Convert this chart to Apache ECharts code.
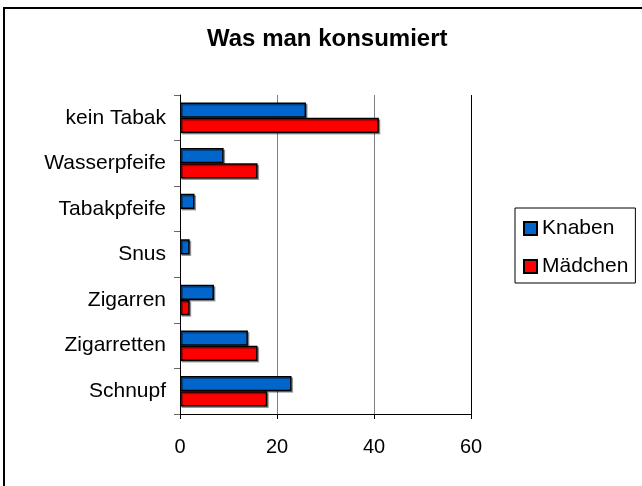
<!DOCTYPE html>
<html>
<head>
<meta charset="utf-8">
<script src="https://cdn.jsdelivr.net/npm/echarts@6/dist/echarts.min.js"></script>
<style>
  html, body { margin: 0; padding: 0; background: #fff; }
  #main { width: 642px; height: 486px; }
</style>
</head>
<body>
<div id="main"></div>
<script>
var categories = ['kein Tabak', 'Wasserpfeife', 'Tabakpfeife', 'Snus', 'Zigarren', 'Zigarretten', 'Schnupf'];
var knaben = [26, 9, 3, 2, 7, 14, 23];
var maedchen = [41, 16, 0, 0, 2, 16, 18];
var xTicks = [0, 20, 40, 60];

var font = 'Liberation Sans, Arial, sans-serif';
var myChart = echarts.init(document.getElementById('main'));

function barStyle(color) {
  return {
    color: color,
    borderColor: '#000',
    borderWidth: 1.5,
    shadowColor: 'rgba(0,0,0,0.35)',
    shadowOffsetX: 1.5,
    shadowOffsetY: 1.5
  };
}

// zero values draw nothing (no border stub on the axis)
function toItems(values) {
  return values.map(function (v) {
    if (v === 0) {
      return { value: 0, itemStyle: { borderWidth: 0, shadowColor: 'transparent', opacity: 0 } };
    }
    return v;
  });
}

myChart.setOption({
  backgroundColor: '#fff',
  animation: false,
  title: {
    text: 'Was man konsumiert',
    left: 207,
    top: 27,
    padding: 0,
    textStyle: { fontFamily: font, fontSize: 24, fontWeight: 'bold', color: '#000' }
  },
  legend: {
    orient: 'vertical',
    left: 515,
    top: 208,
    padding: [10, 7, 6, 8],
    itemGap: 17,
    itemWidth: 13,
    itemHeight: 13,
    icon: 'rect',
    borderColor: '#000',
    borderWidth: 1,
    textStyle: { fontFamily: font, fontSize: 21, color: '#000' },
    data: ['Knaben', 'Mädchen']
  },
  grid: { left: 180, right: 171, top: 95, bottom: 72, containLabel: false },
  xAxis: {
    type: 'value',
    min: xTicks[0],
    max: xTicks[xTicks.length - 1],
    interval: 20,
    axisLine: { show: true, lineStyle: { color: '#000', width: 1 } },
    axisTick: { show: true, length: 5, lineStyle: { color: '#000' } },
    axisLabel: { fontFamily: font, fontSize: 20, color: '#000', margin: 23 },
    splitLine: { show: true, lineStyle: { color: ['#000', '#7f7f7f', '#7f7f7f', '#000'], width: 1 } }
  },
  yAxis: {
    type: 'category',
    inverse: true,
    data: categories,
    axisLine: { show: true, lineStyle: { color: '#000', width: 1 } },
    axisTick: { show: true, length: 6, lineStyle: { color: '#666' } },
    axisLabel: { fontFamily: font, fontSize: 21, color: '#000', margin: 14 }
  },
  series: [
    {
      name: 'Knaben',
      type: 'bar',
      data: toItems(knaben),
      barGap: '0%',
      barCategoryGap: '33%',
      itemStyle: barStyle('#0066cc')
    },
    {
      name: 'Mädchen',
      type: 'bar',
      data: toItems(maedchen),
      barGap: '0%',
      barCategoryGap: '33%',
      itemStyle: barStyle('#ff0000')
    }
  ],
  graphic: [
    {
      type: 'rect',
      shape: { x: 4, y: 8, width: 700, height: 600 },
      style: { fill: null, stroke: '#000', lineWidth: 2 },
      silent: true
    }
  ]
});
</script>
</body>
</html>
